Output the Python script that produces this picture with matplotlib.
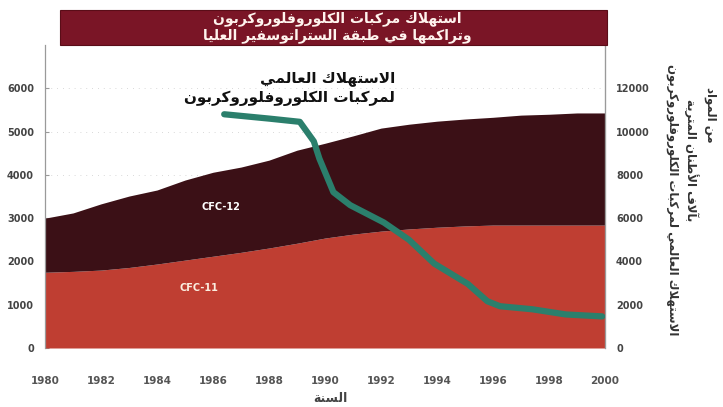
import matplotlib
matplotlib.use("Agg")
import matplotlib.pyplot as plt
from matplotlib.patches import Rectangle

# ---------------- data ----------------
years = [1980, 1981, 1982, 1983, 1984, 1985, 1986, 1987, 1988, 1989, 1990,
         1991, 1992, 1993, 1994, 1995, 1996, 1997, 1998, 1999, 2000]
lower_series = [1750, 1770, 1800, 1860, 1940, 2030, 2120, 2210, 2310, 2420, 2540,
                2630, 2700, 2750, 2790, 2820, 2840, 2840, 2840, 2840, 2840]
total_series = [3000, 3120, 3330, 3510, 3650, 3880, 4060, 4180, 4340, 4570, 4730,
                4900, 5080, 5170, 5240, 5290, 5330, 5380, 5400, 5430, 5430]
cons_years = [1986.4, 1988.0, 1989.1, 1989.6, 1989.8, 1990.3, 1990.9, 1992.1,
              1993.0, 1993.9, 1995.1, 1995.8, 1996.25, 1997.4, 1998.6, 1999.9]
cons_values = [10800, 10600, 10450, 9550, 8750, 7200, 6600, 5800,
               5000, 3900, 2960, 2160, 1930, 1790, 1550, 1460]
x_ticks = [1980, 1982, 1984, 1986, 1988, 1990, 1992, 1994, 1996, 1998, 2000]
left_ticks = [0, 1000, 2000, 3000, 4000, 5000, 6000]
right_ticks = [0, 2000, 4000, 6000, 8000, 10000, 12000]
lower_label = "CFC-11"
upper_label = "CFC-12"
title_lines = ["استهلاك مركبات الكلوروفلوروكربون",
               "وتراكمها في طبقة الستراتوسفير العليا"]
annot_lines = ["الاستهلاك العالمي", "لمركبات الكلوروفلوروكربون"]
right_label_cols = ["الاستهلاك العالمي لمركبات الكلوروفلوروكربون",
                    "بآلاف الأطنان المترية",
                    "من المواد"]
x_label = "السنة"

# ------------- simple Arabic shaping -------------
DUAL = {'ئ': 0xFE89, 'ب': 0xFE8F, 'ت': 0xFE95, 'ث': 0xFE99, 'ج': 0xFE9D, 'ح': 0xFEA1,
        'خ': 0xFEA5, 'س': 0xFEB1, 'ش': 0xFEB5, 'ص': 0xFEB9, 'ض': 0xFEBD, 'ط': 0xFEC1,
        'ظ': 0xFEC5, 'ع': 0xFEC9, 'غ': 0xFECD, 'ف': 0xFED1, 'ق': 0xFED5, 'ك': 0xFED9,
        'ل': 0xFEDD, 'م': 0xFEE1, 'ن': 0xFEE5, 'ه': 0xFEE9, 'ي': 0xFEF1}
RIGHT = {'آ': 0xFE81, 'أ': 0xFE83, 'ؤ': 0xFE85, 'إ': 0xFE87, 'ا': 0xFE8D, 'ة': 0xFE93,
         'د': 0xFEA9, 'ذ': 0xFEAB, 'ر': 0xFEAD, 'ز': 0xFEAF, 'و': 0xFEED, 'ى': 0xFEEF}
LAMALEF = {'آ': 0xFEF5, 'أ': 0xFEF7, 'إ': 0xFEF9, 'ا': 0xFEFB}


def ar(text):
    chars = list(text)
    units = []
    i = 0
    while i < len(chars):
        c = chars[i]
        if c == 'ل' and i + 1 < len(chars) and chars[i + 1] in LAMALEF:
            units.append(('LA', LAMALEF[chars[i + 1]]))
            i += 2
        else:
            units.append(('C', c))
            i += 1

    def jt(u):
        if u is None:
            return None
        k, v = u
        if k == 'LA':
            return 'R'
        if v in DUAL:
            return 'D'
        if v in RIGHT:
            return 'R'
        return None

    out = []
    for idx, u in enumerate(units):
        prev = units[idx - 1] if idx > 0 else None
        nxt = units[idx + 1] if idx + 1 < len(units) else None
        t = jt(u)
        if t is None:
            out.append(u[1])
            continue
        cp = jt(prev) == 'D'
        cn = t == 'D' and jt(nxt) in ('D', 'R')
        base = u[1] if u[0] == 'LA' else (DUAL.get(u[1]) or RIGHT[u[1]])
        if t == 'R':
            form = base + 1 if cp else base
        else:
            form = base + (3 if (cp and cn) else 1 if cp else 2 if cn else 0)
        out.append(chr(form))
    return ''.join(out)[::-1]


plt.rcParams['font.family'] = ['DejaVu Sans']

W, H = 723, 407
fig = plt.figure(figsize=(W / 100, H / 100), dpi=100)
fig.patch.set_facecolor('white')

ax_l, ax_r, ax_t, ax_b = 45, 605, 45, 348
ax = fig.add_axes([ax_l / W, 1 - ax_b / H, (ax_r - ax_l) / W, (ax_b - ax_t) / H])
ax.set_facecolor('white')

dark = '#3b1016'
red = '#bf3e32'
ax.fill_between(years, 0, lower_series, color=red, lw=0, zorder=2)
ax.fill_between(years, lower_series, total_series, color=dark, lw=0, zorder=2)

ax.set_xlim(1980, 2000)
ax.set_ylim(0, 7000)
ax.set_xticks(x_ticks)
ax.set_yticks(left_ticks)
ax.grid(axis='y', color='#cccccc', lw=0.6, ls=(0, (1, 6)), zorder=1)
ax.tick_params(axis='x', length=0, pad=20, labelsize=7.5, labelcolor='#555555')
ax.tick_params(axis='y', length=3, direction='in', pad=8, labelsize=7,
               labelcolor='#444444', color='#999999')
for lab in ax.get_xticklabels() + ax.get_yticklabels():
    lab.set_fontweight('bold')
for s in ['left', 'right', 'top']:
    ax.spines[s].set_color('#9a9a9a')
    ax.spines[s].set_linewidth(0.9)
ax.spines['top'].set_visible(False)
ax.spines['bottom'].set_visible(False)

ax2 = ax.twinx()
ax2.set_ylim(0, 14000)
ax2.set_yticks(right_ticks)
ax2.plot(cons_years, cons_values, color='#2b7f6c', lw=4.5,
         solid_capstyle='round', solid_joinstyle='round', zorder=5)
ax2.tick_params(axis='y', length=0, pad=8, labelsize=7, labelcolor='#444444')
for lab in ax2.get_yticklabels():
    lab.set_fontweight('bold')
for s in ['left', 'top', 'bottom']:
    ax2.spines[s].set_visible(False)
ax2.spines['right'].set_color('#9a9a9a')

# inner series labels
ax.text(1986.3, 3260, upper_label, color='white', fontsize=7, fontweight='bold',
        ha='center', va='center', zorder=6)
ax.text(1985.5, 1380, lower_label, color='#fbeee0', fontsize=7, fontweight='bold',
        ha='center', va='center', zorder=6)

# annotation
fig.text(395 / W, 1 - 79 / H, ar(annot_lines[0]), ha='right', va='center',
         fontsize=11, fontweight='bold', color='#111111')
fig.text(395 / W, 1 - 98 / H, ar(annot_lines[1]), ha='right', va='center',
         fontsize=11, fontweight='bold', color='#111111')

# title banner
fig.add_artist(Rectangle((60 / W, 1 - 45 / H), (607 - 60) / W, 35 / H,
                         transform=fig.transFigure, facecolor='#7a1526',
                         edgecolor='#5a0d18', lw=0.8))
fig.text(337 / W, 1 - 19 / H, ar(title_lines[0]), ha='center', va='center',
         fontsize=10, fontweight='bold', color='#fff4ee')
fig.text(337 / W, 1 - 36 / H, ar(title_lines[1]), ha='center', va='center',
         fontsize=10, fontweight='bold', color='#fff4ee')

# right axis label columns
fig.text(672 / W, 1 - 200 / H, ar(right_label_cols[0]), rotation=270,
         ha='center', va='center', fontsize=8.5, fontweight='bold', color='#333333')
fig.text(691 / W, 1 - 160 / H, ar(right_label_cols[1]), rotation=270,
         ha='center', va='center', fontsize=8.5, fontweight='bold', color='#333333')
fig.text(710 / W, 1 - 115 / H, ar(right_label_cols[2]), rotation=270,
         ha='center', va='center', fontsize=8.5, fontweight='bold', color='#333333')

# x label
fig.text(330 / W, 1 - 398 / H, ar(x_label), ha='center', va='center',
         fontsize=9, fontweight='bold', color='#444444')

fig.savefig('out.png', dpi=100, facecolor='white')
